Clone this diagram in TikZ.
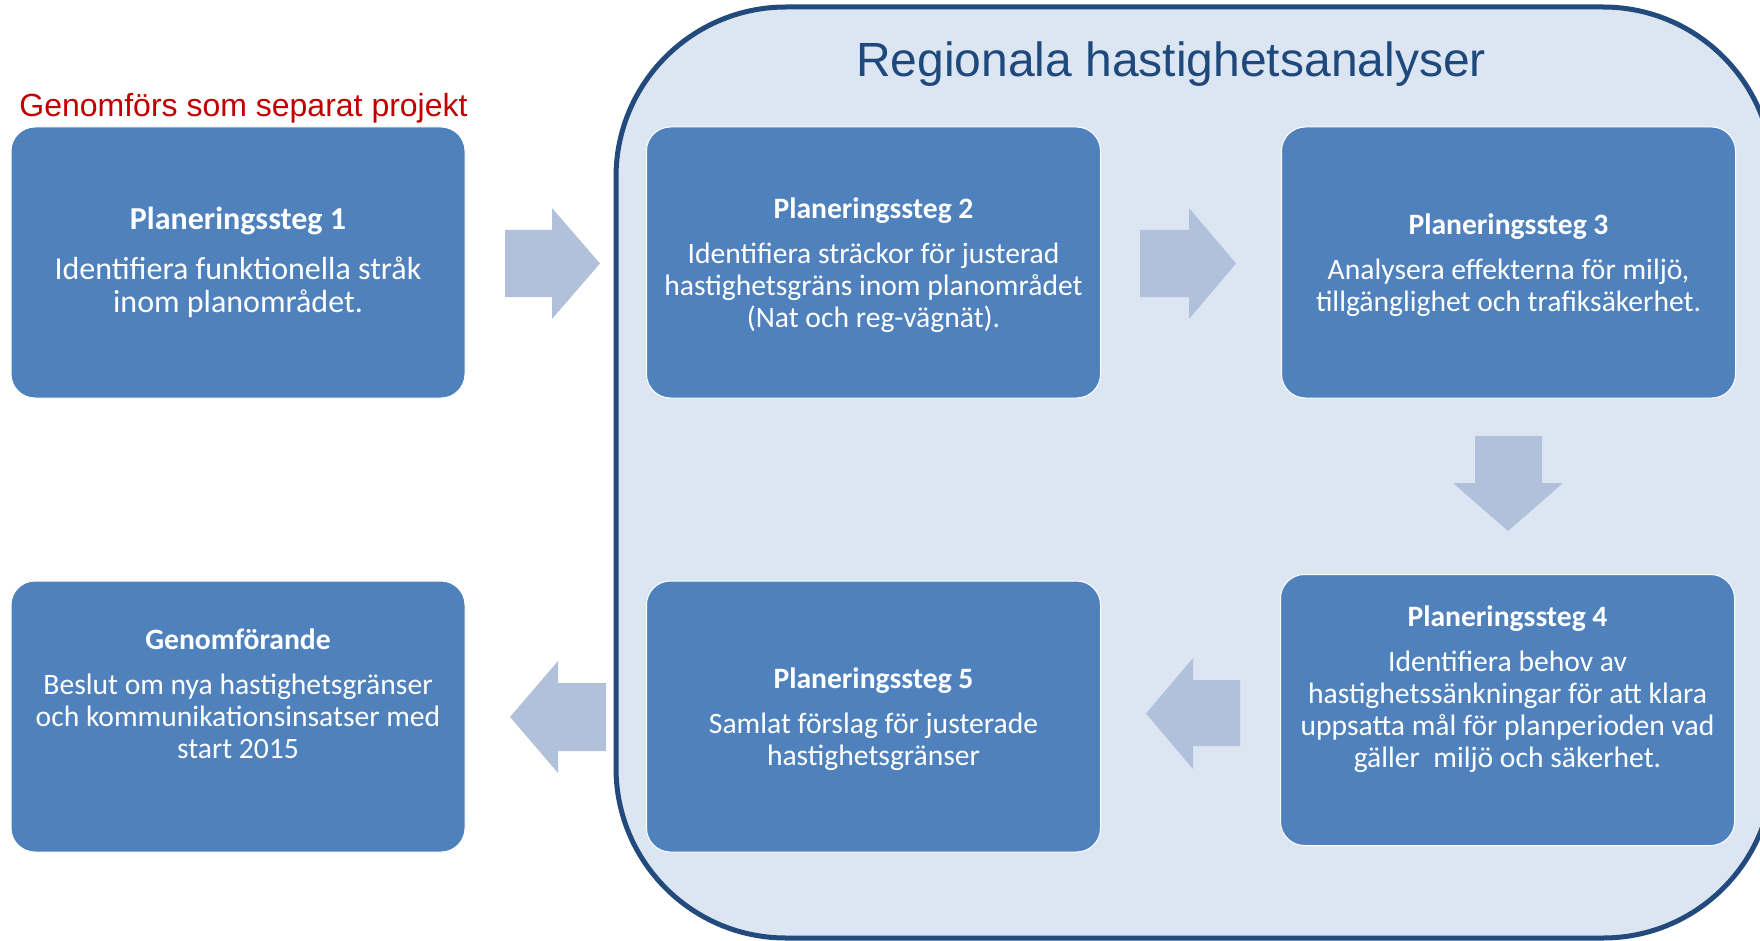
\documentclass[tikz,border=0pt]{standalone}
\usepackage{fontspec}
\setmainfont{Carlito}
\newfontfamily\arialf{Liberation Sans}
\definecolor{boxc}{HTML}{4F81BD}
\definecolor{arrc}{HTML}{B1C1DC}
\definecolor{regfill}{HTML}{DCE6F2}
\definecolor{regline}{HTML}{234A7D}
\definecolor{titc}{HTML}{1F497D}
\definecolor{redc}{HTML}{C00000}
\begin{document}
\begin{tikzpicture}[x=0.5pt,y=-0.5pt,
  stepbox/.style={fill=boxc, draw=white, line width=0.5pt, rounded corners=12pt,
    minimum width=227pt, minimum height=135.5pt, inner sep=0pt},
  steptxt/.style={text=white, align=center, inner sep=0pt,
    font=\fontsize{14.8}{16}\selectfont},
  steptxtbig/.style={steptxt, font=\fontsize{16}{16.8}\selectfont},
  blockarr/.style={fill=arrc},
  ]
\useasboundingbox (0,0) rectangle (1760,941);
\clip (0,0) rectangle (1760,941);
% region
\draw[fill=regfill, draw=regline, line width=2.5pt, rounded corners=85pt]
  (616,7) rectangle (1773,938);
\node[font=\arialf\fontsize{24}{28}\selectfont, text=titc, anchor=base, inner sep=0pt]
  (title) at (1171,76.5) {Regionala hastighetsanalyser};
\node[font=\arialf\fontsize{16}{19}\selectfont, text=redc, anchor=base, inner sep=0pt]
  (sep) at (243.5,117) {Genomförs som separat projekt};
% boxes
\node[stepbox] (s1) at (238,262.5) {};
\node[stepbox] (s2) at (873.5,262.5) {};
\node[stepbox] (s3) at (1508.5,262.5) {};
\node[stepbox] (s4) at (1507.5,710) {};
\node[stepbox] (s5) at (873.5,716.5) {};
\node[stepbox] (sg) at (238,716.5) {};
% texts
\node[steptxtbig] (t1) at (s1) {\textbf{Planeringssteg 1}\\[8pt]
  Identifiera funktionella stråk\\ inom planområdet.};
\node[steptxt, yshift=-1.3pt] (t2) at (s2) {\textbf{Planeringssteg 2}\\[6.5pt]
  Identifiera sträckor för justerad\\ hastighetsgräns inom planområdet\\ (Nat och reg-vägnät).};
\node[steptxt, yshift=-1.3pt] (t3) at (s3) {\textbf{Planeringssteg 3}\\[6.5pt]
  Analysera effekterna för miljö,\\ tillgänglighet och trafiksäkerhet.};
\node[steptxt, yshift=10.3pt] (t4) at (s4) {\textbf{Planeringssteg 4}\\[6.5pt]
  Identifiera behov av\\ hastighetssänkningar för att klara\\ uppsatta mål för planperioden vad\\ gäller\ \ miljö och säkerhet.};
\node[steptxt, yshift=-1.1pt] (t5) at (s5) {\textbf{Planeringssteg 5}\\[6.5pt]
  Samlat förslag för justerade\\ hastighetsgränser};
\node[steptxt, yshift=11.5pt] (tg) at (sg) {\textbf{Genomförande}\\[6.5pt]
  Beslut om nya hastighetsgränser\\ och kommunikationsinsatser med\\ start 2015};
% block arrows
\fill[blockarr] (505,230) -- (552,230) -- (552,208) -- (600,263.5) -- (552,319) -- (552,297) -- (505,297) -- cycle;
\fill[blockarr] (1140,230) -- (1189,230) -- (1189,208) -- (1236,263.5) -- (1189,319) -- (1189,297) -- (1140,297) -- cycle;
\fill[blockarr] (1475,436) -- (1542,436) -- (1542,483) -- (1563,483) -- (1508,531) -- (1453,483) -- (1475,483) -- cycle;
\fill[blockarr] (1240,680) -- (1193,680) -- (1193,658) -- (1146,713.5) -- (1193,769) -- (1193,746) -- (1240,746) -- cycle;
\fill[blockarr] (606,683) -- (558,683) -- (558,661) -- (510,717) -- (558,773) -- (558,751) -- (606,751) -- cycle;
\end{tikzpicture}
\end{document}
